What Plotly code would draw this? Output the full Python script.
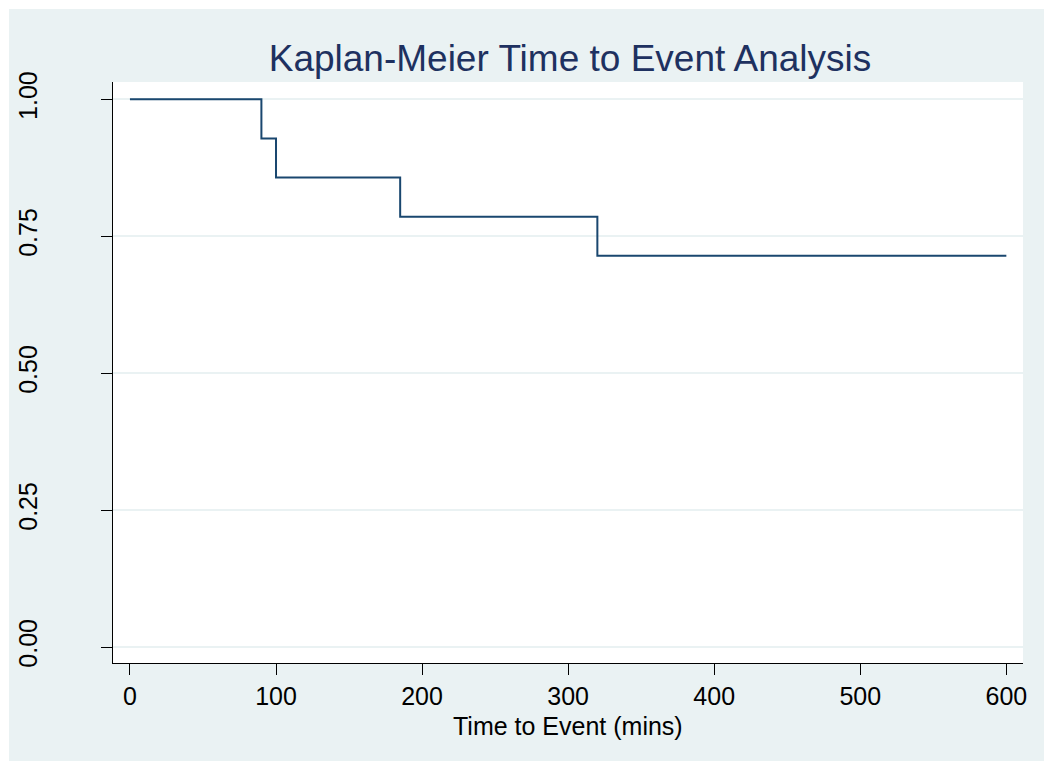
import plotly.graph_objects as go

# Data
time_mins = [0, 90, 100, 185, 320, 600]
survival = [1.0, 0.9286, 0.8571, 0.7857, 0.7143, 0.7143]
x_ticks = [0, 100, 200, 300, 400, 500, 600]
y_ticks = [0.0, 0.25, 0.5, 0.75, 1.0]

W, H = 1045, 761
ML, MR, MT, MB = 113, 22, 82, 98
PW, PH = W - ML - MR, H - MT - MB
BG = "#EAF2F3"


def px_x(p):
    return (p - ML) / PW


def px_y(p):
    return (H - MB - p) / PH


fig = go.Figure()
fig.add_trace(go.Scatter(
    x=time_mins, y=survival, mode="lines", line_shape="hv",
    line=dict(color="#1A476F", width=2), showlegend=False, hoverinfo="x+y",
))

fig.update_layout(
    width=W, height=H,
    margin=dict(l=ML, r=MR, t=MT, b=MB, pad=0),
    paper_bgcolor="white", plot_bgcolor="white",
    font=dict(family="Liberation Sans, Arial, sans-serif", color="black"),
    title=dict(text="Kaplan-Meier Time to Event Analysis", x=px_x(570), xref="paper",
               xanchor="center", y=1 - 58 / H, yref="container", yanchor="middle",
               font=dict(size=37, color="#1E3160")),
    shapes=[
        dict(type="rect", xref="paper", yref="paper", x0=px_x(9), x1=px_x(1044),
             y0=px_y(765), y1=px_y(9), fillcolor=BG, line=dict(width=0), layer="below"),
        dict(type="rect", xref="paper", yref="paper", x0=0, x1=1, y0=0, y1=1,
             fillcolor="white", line=dict(width=0), layer="below"),
    ],
    annotations=[
        dict(text="Time to Event (mins)", xref="paper", yref="paper", x=px_x(567.5),
             y=px_y(726), xanchor="center", yanchor="middle", showarrow=False,
             font=dict(size=25, color="black")),
    ],
)

fig.update_xaxes(
    range=[-11.6, 611.4], tickvals=x_ticks, ticks="outside", ticklen=11, tickwidth=1,
    tickcolor="black", showline=True, linecolor="black", linewidth=1, showgrid=False,
    zeroline=False, tickfont=dict(size=25), ticklabelstandoff=0,
)
fig.update_yaxes(
    range=[-0.029, 1.0316], tickvals=y_ticks, tickformat=".2f", ticks="outside",
    ticklen=11, tickwidth=1, tickcolor="black", showline=True, linecolor="black",
    linewidth=1, showgrid=True, gridcolor=BG, gridwidth=2, zeroline=False,
    tickangle=-90, tickfont=dict(size=25), ticklabelstandoff=54,
)

fig.write_html("out.html")
